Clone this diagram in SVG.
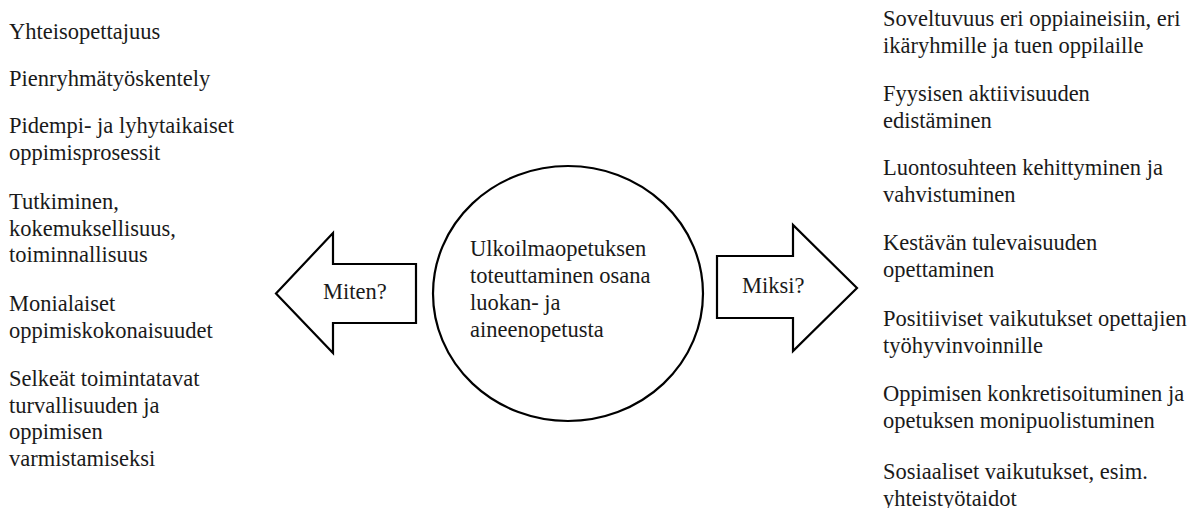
<svg xmlns="http://www.w3.org/2000/svg" width="1204" height="508" viewBox="0 0 1204 508">
<style>
text{font-family:"Liberation Serif","Times New Roman",serif;font-size:22.5px;fill:#1a1a1a}
.shape{fill:#fff;stroke:#000;stroke-width:2.2;stroke-linejoin:miter}
</style>
<rect width="1204" height="508" fill="#fff"/>
<g id="left-list">
<text x="9" y="39">Yhteisopettajuus</text>
<text x="9" y="86">Pienryhmätyöskentely</text>
<text x="9" y="133">Pidempi- ja lyhytaikaiset</text>
<text x="9" y="159.5">oppimisprosessit</text>
<text x="9" y="209">Tutkiminen,</text>
<text x="9" y="235.5">kokemuksellisuus,</text>
<text x="9" y="262">toiminnallisuus</text>
<text x="9" y="311">Monialaiset</text>
<text x="9" y="337.5">oppimiskokonaisuudet</text>
<text x="9" y="386">Selkeät toimintatavat</text>
<text x="9" y="412.5">turvallisuuden ja</text>
<text x="9" y="439">oppimisen</text>
<text x="9" y="465.5">varmistamiseksi</text>
</g>
<g id="connectors">
<g id="miten">
<polygon class="shape" points="276,293.5 333,233 333,264 416,264 416,323 333,323 333,353"/>
<text x="323" y="299">Miten?</text>
</g>
<g id="miksi">
<polygon class="shape" points="857,288 793,225 793,256 717,256 717,318 793,318 793,351"/>
<text x="742" y="293">Miksi?</text>
</g>
</g>
<g id="center">
<ellipse class="shape" cx="568" cy="293.5" rx="135" ry="127.5" stroke-width="2"/>
<text x="470" y="256">Ulkoilmaopetuksen</text>
<text x="470" y="283">toteuttaminen osana</text>
<text x="470" y="310">luokan- ja</text>
<text x="470" y="337">aineenopetusta</text>
</g>
<g id="right-list">
<text x="883" y="26">Soveltuvuus eri oppiaineisiin, eri</text>
<text x="883" y="53">ikäryhmille ja tuen oppilaille</text>
<text x="883" y="101">Fyysisen aktiivisuuden</text>
<text x="883" y="127.5">edistäminen</text>
<text x="883" y="175">Luontosuhteen kehittyminen ja</text>
<text x="883" y="201.5">vahvistuminen</text>
<text x="883" y="250">Kestävän tulevaisuuden</text>
<text x="883" y="276.5">opettaminen</text>
<text x="883" y="326">Positiiviset vaikutukset opettajien</text>
<text x="883" y="352.5">työhyvinvoinnille</text>
<text x="883" y="401">Oppimisen konkretisoituminen ja</text>
<text x="883" y="427.5">opetuksen monipuolistuminen</text>
<text x="883" y="479">Sosiaaliset vaikutukset, esim.</text>
<text x="883" y="506">yhteistyötaidot</text>
</g>
</svg>
